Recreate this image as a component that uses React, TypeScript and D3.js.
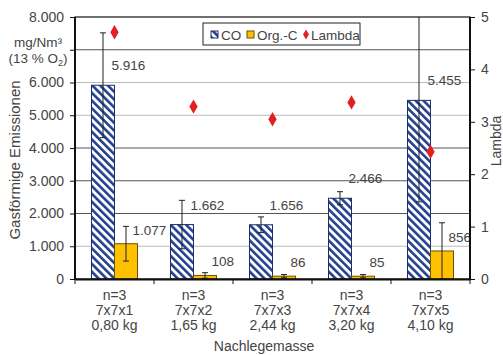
import * as d3 from 'd3'
import { useEffect, useRef } from 'react'

const categories = ['7x7x1', '7x7x2', '7x7x3', '7x7x4', '7x7x5']
const masses = ['0,80 kg', '1,65 kg', '2,44 kg', '3,20 kg', '4,10 kg']
const coValues = [5916, 1662, 1656, 2466, 5455]
const coErrors = [1600, 740, 240, 200, 3100]
const orgValues = [1077, 108, 86, 85, 856]
const orgErrors = [530, 85, 50, 50, 860]
const lambdaValues = [4.71, 3.29, 3.05, 3.37, 2.43]
const leftTicks = [0, 1000, 2000, 3000, 4000, 5000, 6000, 7000, 8000]
const rightTicks = [0, 1, 2, 3, 4, 5]

const fmt = (v: number) => d3.format(',')(v).replace(/,/g, '.')
// 7.000 is replaced by the unit label in the original
const fmtTick = (v: number) =>
  v === 0 ? '0' : v === 7000 ? '' : d3.format(',.0f')(v).replace(/,/g, '.')

export default function App() {
  const svgRef = useRef<SVGSVGElement | null>(null)

  useEffect(() => {
    if (!svgRef.current) return
    const width = 503
    const height = 355
    const m = { top: 17, right: 33, bottom: 76, left: 75 }
    const font = 'Liberation Sans, Arial, sans-serif'
    const textColor = '#444'

    d3.select(svgRef.current).selectAll('*').remove()
    const svg = d3.select(svgRef.current).attr('width', width).attr('height', height)

    const x0 = d3.scaleBand<string>().domain(categories).range([m.left, width - m.right])
    const x1 = d3
      .scaleBand<string>()
      .domain(['co', 'org'])
      .range([0, x0.bandwidth()])
      .paddingOuter(0.717)
    const y = d3.scaleLinear().domain([0, 8000]).range([height - m.bottom, m.top])
    const yR = d3.scaleLinear().domain([0, 5]).range([height - m.bottom, m.top])

    const defs = svg.append('defs')
    const pat = defs
      .append('pattern')
      .attr('id', 'hatch')
      .attr('patternUnits', 'userSpaceOnUse')
      .attr('width', 5.5)
      .attr('height', 5.5)
      .attr('patternTransform', 'rotate(-45)')
    pat.append('rect').attr('width', 5.5).attr('height', 5.5).attr('fill', '#fff')
    pat
      .append('line')
      .attr('x1', 1.3)
      .attr('x2', 1.3)
      .attr('y1', 0)
      .attr('y2', 5.5)
      .attr('stroke', '#223f8f')
      .attr('stroke-width', 2.6)
    defs
      .append('clipPath')
      .attr('id', 'plotclip')
      .append('rect')
      .attr('x', m.left)
      .attr('y', m.top)
      .attr('width', width - m.left - m.right)
      .attr('height', height - m.top - m.bottom)

    // gridlines
    svg
      .append('g')
      .selectAll('line')
      .data(leftTicks.slice(1, -1))
      .join('line')
      .attr('x1', m.left)
      .attr('x2', width - m.right)
      .attr('y1', d => y(d))
      .attr('y2', d => y(d))
      .attr('stroke', d => (d === 5000 || d === 6000 || d === 1000 ? '#bbb' : '#555'))
      .attr('stroke-width', 1)

    const groups = svg
      .append('g')
      .selectAll('g')
      .data(categories)
      .join('g')
      .attr('transform', d => `translate(${x0(d)},0)`)

    // CO bars
    groups
      .append('rect')
      .attr('x', x1('co')!)
      .attr('width', x1.bandwidth())
      .attr('y', (_, i) => y(coValues[i]))
      .attr('height', (_, i) => y(0) - y(coValues[i]))
      .attr('fill', 'url(#hatch)')
      .attr('stroke', '#1d2f6b')
      .attr('stroke-width', 1)
    // Org-C bars
    groups
      .append('rect')
      .attr('x', x1('org')!)
      .attr('width', x1.bandwidth())
      .attr('y', (_, i) => y(orgValues[i]))
      .attr('height', (_, i) => y(0) - y(orgValues[i]))
      .attr('fill', '#ffc000')
      .attr('stroke', '#6b5200')
      .attr('stroke-width', 1)

    // error bars
    const errLayer = svg.append('g').attr('clip-path', 'url(#plotclip)')
    const drawErr = (vals: number[], errs: number[], key: string) => {
      categories.forEach((c, i) => {
        const cx = (x0(c) ?? 0) + (x1(key) ?? 0) + x1.bandwidth() / 2
        const top = y(vals[i] + errs[i])
        const bot = y(vals[i] - errs[i])
        const g = errLayer.append('g').attr('stroke', '#222').attr('stroke-width', 1)
        g.append('line').attr('x1', cx).attr('x2', cx).attr('y1', top).attr('y2', bot)
        g.append('line').attr('x1', cx - 3).attr('x2', cx + 3).attr('y1', top).attr('y2', top)
        g.append('line').attr('x1', cx - 3).attr('x2', cx + 3).attr('y1', bot).attr('y2', bot)
      })
    }
    drawErr(coValues, coErrors, 'co')
    drawErr(orgValues, orgErrors, 'org')

    // value labels
    groups
      .append('text')
      .attr('x', (x1('co') ?? 0) + x1.bandwidth() - 3)
      .attr('y', (_, i) => y(coValues[i]) - 15)
      .text((_, i) => fmt(coValues[i]))
    groups
      .append('text')
      .attr('x', (x1('org') ?? 0) + x1.bandwidth() - 5)
      .attr('y', (_, i) => y(orgValues[i]) - 9)
      .text((_, i) => fmt(orgValues[i]))
    groups
      .selectAll('text')
      .attr('font-family', font)
      .attr('font-size', 13.5)
      .attr('fill', textColor)

    // lambda diamonds
    svg
      .append('g')
      .selectAll('path')
      .data(lambdaValues)
      .join('path')
      .attr('d', d3.symbol(d3.symbolDiamond, 60)())
      .attr(
        'transform',
        (d, i) => `translate(${(x0(categories[i]) ?? 0) + x0.bandwidth() / 2},${yR(d)})`
      )
      .attr('fill', '#e32020')

    // frame
    svg
      .append('rect')
      .attr('x', m.left)
      .attr('y', m.top)
      .attr('width', width - m.left - m.right)
      .attr('height', height - m.top - m.bottom)
      .attr('fill', 'none')
      .attr('stroke', '#111')
      .attr('stroke-width', 1.2)

    // axes
    const left = svg
      .append('g')
      .attr('transform', `translate(${m.left},0)`)
      .call(d3.axisLeft(y).tickValues(leftTicks).tickFormat(d => fmtTick(+d)).tickSize(5).tickPadding(6))
    const right = svg
      .append('g')
      .attr('transform', `translate(${width - m.right},0)`)
      .call(d3.axisRight(yR).tickValues(rightTicks).tickFormat(d3.format('d')).tickSize(5).tickPadding(6))
    const bottom = svg
      .append('g')
      .attr('transform', `translate(0,${height - m.bottom})`)
      .call(d3.axisBottom(x0).tickSize(0).tickFormat(() => ''))
    ;[left, right, bottom].forEach(a => {
      a.select('.domain').attr('stroke', '#111').attr('stroke-width', 2)
      a.selectAll('.tick line').attr('stroke', '#111')
      a.selectAll('text').attr('font-family', font).attr('font-size', 14).attr('fill', textColor)
    })
    left.select('.domain').attr('d', `M0,${m.top}V${height - m.bottom}`)
    right.select('.domain').attr('d', `M0,${m.top}V${height - m.bottom}`)
    // category separators
    svg
      .append('g')
      .selectAll('line')
      .data([...categories.map(c => x0(c) ?? 0), width - m.right])
      .join('line')
      .attr('x1', d => d)
      .attr('x2', d => d)
      .attr('y1', height - m.bottom)
      .attr('y2', height - m.bottom + 5)
      .attr('stroke', '#111')

    // category labels
    const cat = svg
      .append('g')
      .selectAll('text')
      .data(categories)
      .join('text')
      .attr('x', d => (x0(d) ?? 0) + x0.bandwidth() / 2)
      .attr('text-anchor', 'middle')
      .attr('font-family', font)
      .attr('font-size', 14)
      .attr('fill', textColor)
    cat.append('tspan').attr('x', d => (x0(d) ?? 0) + x0.bandwidth() / 2).attr('y', 300).text('n=3')
    cat.append('tspan').attr('x', d => (x0(d) ?? 0) + x0.bandwidth() / 2).attr('y', 315).text(d => d)
    cat
      .append('tspan')
      .attr('x', d => (x0(d) ?? 0) + x0.bandwidth() / 2)
      .attr('y', 330)
      .text((_, i) => masses[i])

    const txt = (s: string, xp: number, yp: number, size = 14, rot = 0) =>
      svg
        .append('text')
        .attr('transform', `translate(${xp},${yp}) rotate(${rot})`)
        .attr('text-anchor', 'middle')
        .attr('font-family', font)
        .attr('font-size', size)
        .attr('fill', textColor)
        .text(s)

    txt('Nachlegemasse', 264, 351)
    txt('Gasförmige Emissionen', 20, 160, 15, -90)
    txt('Lambda', 501, 141, 14, -90)
    txt('mg/Nm³', 38, 47, 13.5)
    const unit = svg
      .append('text')
      .attr('x', 38)
      .attr('y', 63)
      .attr('text-anchor', 'middle')
      .attr('font-family', font)
      .attr('font-size', 13.5)
      .attr('fill', textColor)
    unit.append('tspan').text('(13 % O')
    unit.append('tspan').attr('font-size', 9).attr('dy', 3).text('2')
    unit.append('tspan').attr('dy', -3).text(')')

    // legend
    const lg = svg.append('g').attr('transform', 'translate(203,23)')
    lg.append('rect')
      .attr('width', 157)
      .attr('height', 22)
      .attr('fill', '#fff')
      .attr('stroke', '#222')
    lg.append('rect')
      .attr('x', 8)
      .attr('y', 8)
      .attr('width', 7)
      .attr('height', 7)
      .attr('fill', 'url(#hatch)')
      .attr('stroke', '#1d2f6b')
    lg.append('rect')
      .attr('x', 44)
      .attr('y', 8)
      .attr('width', 7)
      .attr('height', 7)
      .attr('fill', '#ffc000')
      .attr('stroke', '#6b5200')
    lg.append('path')
      .attr('d', d3.symbol(d3.symbolDiamond, 30)())
      .attr('transform', 'translate(103,11.5)')
      .attr('fill', '#e32020')
    const items: [string, number][] = [
      ['CO', 18],
      ['Org.-C', 54],
      ['Lambda', 108]
    ]
    lg.selectAll('text.l')
      .data(items)
      .join('text')
      .attr('x', d => d[1])
      .attr('y', 16.5)
      .attr('font-family', font)
      .attr('font-size', 13.5)
      .attr('fill', textColor)
      .text(d => d[0])
  }, [])

  return (
    <div style={{ position: 'absolute', left: 0, top: 0 }}>
      <svg ref={svgRef} style={{ display: 'block' }} />
    </div>
  )
}
